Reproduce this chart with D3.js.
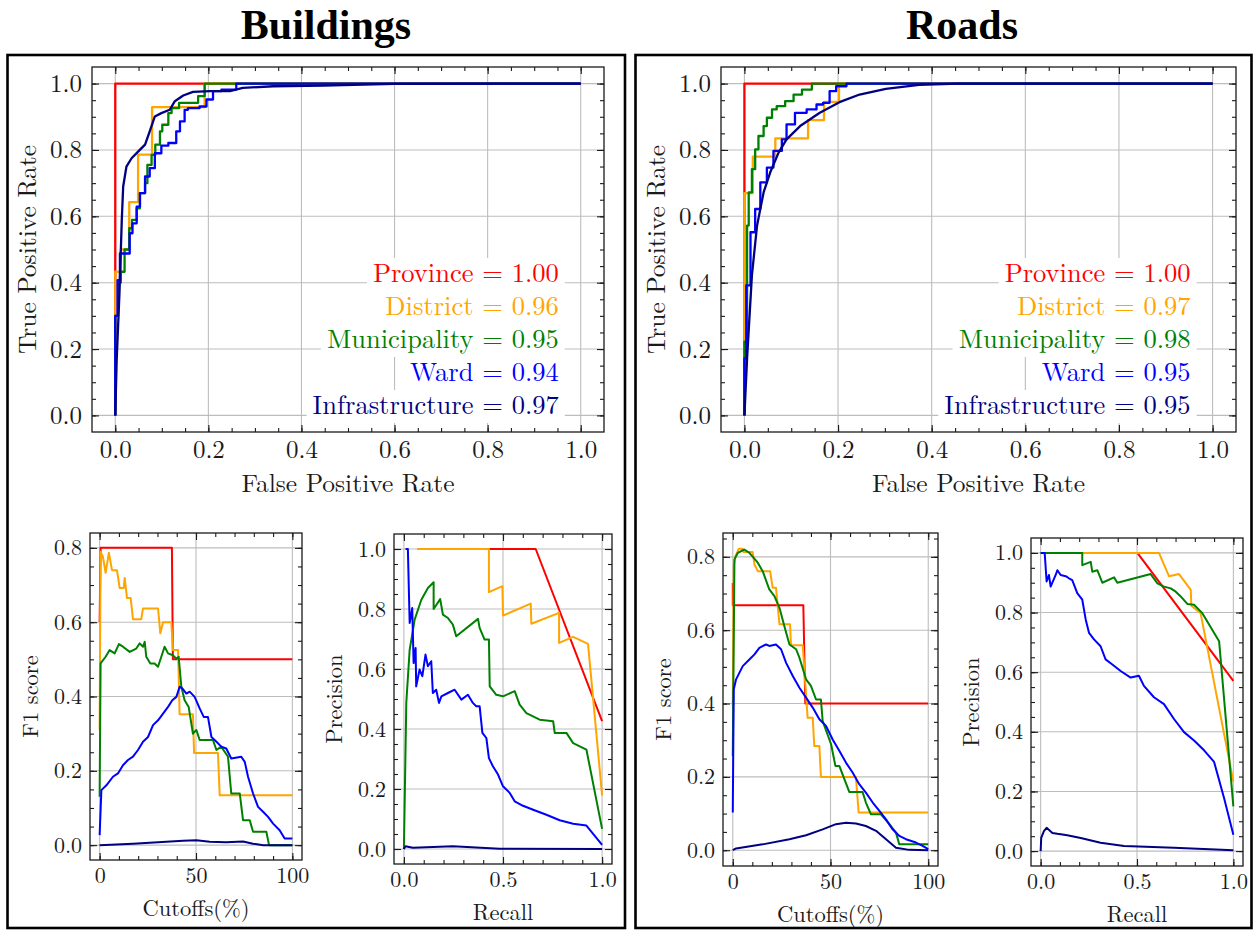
<!DOCTYPE html>
<html>
<head>
<meta charset="utf-8">
<script src="https://cdn.jsdelivr.net/npm/d3@7"></script>
<style>
  body { margin: 0; background: #fff; }
</style>
</head>
<body>
<svg id="chart" width="1254" height="930"></svg>
<script>
// categories / colours / AUC values
const categories = ["Province", "District", "Municipality", "Ward", "Infrastructure"];
const colors = ["#ff0000", "#ffa500", "#008000", "#0000ff", "#000080"];
const aucBuildings = ["1.00", "0.96", "0.95", "0.94", "0.97"];
const aucRoads = ["1.00", "0.97", "0.98", "0.95", "0.95"];

// tick values
const rocTicks = [0, 0.2, 0.4, 0.6, 0.8, 1.0];
const f1XTicks = [0, 50, 100];
const f1YTicks = [0, 0.2, 0.4, 0.6, 0.8];
const prXTicks = [0, 0.5, 1.0];
const prYTicks = [0, 0.2, 0.4, 0.6, 0.8, 1.0];

// ---- Buildings ROC [fpr, tpr]
const bRocProvince = [[0,0],[0,0.433],[0,1],[1,1]];
const bRocDistrict = [[0,0],[0,0.433],[0.012,0.433],[0.012,0.5],[0.03,0.5],[0.03,0.643],[0.049,0.643],[0.049,0.786],[0.079,0.786],[0.079,0.929],[0.192,0.929],[0.192,1],[1,1]];
const bRocMunicipality = [[0,0],[0.006,0.3],[0.012,0.40],[0.02,0.433],[0.03,0.5],[0.036,0.564],[0.046,0.589],[0.053,0.624],[0.064,0.67],[0.069,0.70],[0.078,0.755],[0.086,0.785],[0.096,0.816],[0.101,0.856],[0.114,0.876],[0.121,0.911],[0.137,0.926],[0.178,0.942],[0.192,0.962],[0.199,1],[1,1]];
const bRocWard = [[0,0],[0.005,0.3],[0.01,0.408],[0.021,0.488],[0.031,0.488],[0.037,0.549],[0.046,0.579],[0.053,0.629],[0.064,0.67],[0.074,0.72],[0.085,0.745],[0.099,0.79],[0.114,0.813],[0.131,0.821],[0.139,0.856],[0.149,0.886],[0.156,0.921],[0.181,0.926],[0.196,0.931],[0.21,0.952],[0.228,0.977],[0.26,0.982],[0.282,1],[1,1]];
const bRocInfra = [[0,0],[0.003,0.166],[0.009,0.368],[0.014,0.589],[0.017,0.69],[0.024,0.75],[0.035,0.775],[0.049,0.795],[0.064,0.816],[0.074,0.856],[0.085,0.901],[0.099,0.911],[0.117,0.921],[0.128,0.947],[0.146,0.964],[0.167,0.975],[0.203,0.977],[0.246,0.977],[0.274,0.987],[0.339,0.992],[0.446,0.994],[0.6,0.999],[1,1]];

// ---- Roads ROC
const rRocProvince = [[0,0],[0,0.67],[0,1],[1,1]];
const rRocDistrict = [[0,0],[0,0.67],[0.018,0.67],[0.018,0.78],[0.066,0.78],[0.066,0.835],[0.136,0.835],[0.136,0.89],[0.17,0.89],[0.17,0.945],[0.202,0.945],[0.202,1],[1,1]];
const rRocMunicipality = [[0,0],[0.0057,0.222],[0.0092,0.572],[0.016,0.672],[0.023,0.742],[0.03,0.802],[0.041,0.842],[0.048,0.872],[0.059,0.897],[0.069,0.922],[0.087,0.932],[0.105,0.947],[0.123,0.967],[0.144,0.982],[0.161,1],[1,1]];
const rRocWard = [[0,0],[0.004,0.172],[0.013,0.392],[0.023,0.552],[0.034,0.622],[0.048,0.702],[0.062,0.747],[0.08,0.797],[0.09,0.832],[0.108,0.877],[0.133,0.912],[0.154,0.922],[0.168,0.937],[0.182,0.942],[0.196,0.977],[0.218,0.992],[0.246,1],[1,1]];
const rRocInfra = [[0,0],[0.0057,0.172],[0.016,0.422],[0.027,0.572],[0.041,0.672],[0.055,0.732],[0.073,0.792],[0.09,0.832],[0.119,0.872],[0.161,0.912],[0.203,0.944],[0.246,0.967],[0.302,0.984],[0.373,0.996],[0.458,1],[1,1]];

// ---- Buildings F1 vs cutoff [%, f1]
const bF1Province = [[0,0.6],[0.5,0.8],[37.5,0.8],[38,0.5],[100,0.5]];
const bF1District = [[0,0.31],[0.5,0.79],[1.7,0.776],[3.1,0.733],[4.8,0.787],[6.4,0.74],[9,0.74],[10.4,0.692],[12.5,0.692],[13,0.719],[14.2,0.665],[16.1,0.665],[17.3,0.608],[21.6,0.608],[22.5,0.637],[30.3,0.637],[31.5,0.57],[32.9,0.6],[37.2,0.6],[38,0.525],[40.7,0.525],[41.5,0.352],[48.4,0.352],[49,0.248],[61.4,0.248],[62.3,0.134],[100,0.134]];
const bF1Municipality = [[0,0.13],[0.5,0.489],[3.1,0.507],[5.2,0.525],[7.8,0.516],[10,0.541],[12.1,0.534],[15.6,0.52],[19,0.529],[20.8,0.543],[22.5,0.534],[23.4,0.547],[24.2,0.507],[26.3,0.489],[28.5,0.489],[30.3,0.48],[32,0.507],[33.7,0.534],[35.5,0.516],[38,0.511],[39.8,0.502],[41,0.507],[42.4,0.426],[44.1,0.39],[46.2,0.372],[48.4,0.3],[50.2,0.31],[51.9,0.283],[58.8,0.283],[60.6,0.256],[63.1,0.265],[66.6,0.238],[68.3,0.139],[72.7,0.139],[74.4,0.067],[77.9,0.067],[79.6,0.036],[86.5,0.036],[87.9,0],[100,0]];
const bF1Ward = [[0,0.027],[0.9,0.148],[3.5,0.161],[6.9,0.184],[9.5,0.193],[12.1,0.215],[14.7,0.229],[17.3,0.238],[19.9,0.256],[22.5,0.278],[25.1,0.291],[27.7,0.323],[30.3,0.336],[32.9,0.354],[35.5,0.372],[37.7,0.39],[39.8,0.399],[41.5,0.426],[42.9,0.422],[45,0.408],[46.7,0.413],[49.3,0.399],[51.9,0.368],[54,0.345],[56.2,0.345],[58,0.291],[60.6,0.278],[63.1,0.265],[65.7,0.26],[68.3,0.233],[73.5,0.238],[75.3,0.224],[77,0.184],[79.6,0.139],[82.2,0.103],[84.8,0.09],[87.4,0.076],[90,0.058],[93.4,0.04],[96,0.018],[100,0.018]];
const bF1Infra = [[0,0],[17.3,0.004],[34.6,0.009],[43.3,0.012],[50.2,0.013],[57.1,0.009],[65.7,0.008],[74.4,0.01],[79.6,0.004],[84.8,0],[100,0]];

// ---- Buildings precision/recall [recall, precision]
const bPrProvince = [[0.333,1],[0.665,1],[1,0.426]];
const bPrDistrict = [[0.066,1],[0.429,1],[0.429,0.856],[0.497,0.876],[0.5,0.778],[0.64,0.818],[0.643,0.751],[0.783,0.787],[0.783,0.687],[0.854,0.707],[0.929,0.684],[1,0.179]];
const bPrMunicipality = [[0,0],[0.012,0.487],[0.029,0.664],[0.054,0.764],[0.088,0.831],[0.121,0.87],[0.15,0.889],[0.15,0.8],[0.183,0.833],[0.197,0.781],[0.222,0.77],[0.247,0.748],[0.264,0.709],[0.374,0.767],[0.382,0.737],[0.407,0.698],[0.429,0.698],[0.433,0.542],[0.466,0.514],[0.5,0.509],[0.559,0.526],[0.584,0.481],[0.618,0.453],[0.685,0.431],[0.753,0.426],[0.761,0.387],[0.82,0.387],[0.854,0.353],[0.921,0.331],[1,0.067]];
const bPrWard = [[0.008,1],[0.02,1],[0.029,0.753],[0.042,0.803],[0.049,0.62],[0.059,0.67],[0.062,0.542],[0.079,0.598],[0.093,0.576],[0.109,0.648],[0.121,0.609],[0.138,0.626],[0.146,0.52],[0.163,0.531],[0.177,0.487],[0.189,0.509],[0.222,0.52],[0.256,0.531],[0.29,0.498],[0.323,0.514],[0.348,0.487],[0.365,0.476],[0.382,0.476],[0.396,0.387],[0.416,0.37],[0.429,0.303],[0.449,0.276],[0.475,0.248],[0.5,0.209],[0.534,0.187],[0.559,0.159],[0.601,0.144],[0.652,0.131],[0.719,0.114],[0.786,0.096],[0.854,0.084],[0.921,0.078],[1,0.014]];
const bPrInfra = [[0,0],[0.008,0.009],[0.045,0.004],[0.247,0.009],[0.483,0.001],[1,0]];

// ---- Roads F1 vs cutoff
const rF1Province = [[0,0.729],[0,0.668],[36.1,0.668],[37.1,0.4],[100,0.4]];
const rF1District = [[0,0.393],[0.5,0.775],[1.4,0.802],[3.1,0.822],[4.8,0.822],[5.5,0.813],[10.2,0.813],[11.1,0.779],[12.8,0.761],[19.1,0.761],[20.4,0.716],[22.1,0.716],[23.9,0.616],[29.3,0.616],[29.8,0.559],[35.8,0.559],[38.3,0.361],[40.9,0.361],[41.7,0.284],[44.3,0.284],[45.1,0.2],[63,0.2],[64.4,0.103],[100,0.103]];
const rF1Municipality = [[0,0.257],[0.85,0.793],[2.6,0.811],[5.9,0.82],[8.5,0.811],[12.8,0.784],[15.3,0.761],[18.7,0.711],[21.3,0.693],[23.9,0.661],[26.4,0.611],[29,0.561],[32.4,0.548],[34.1,0.525],[37.5,0.466],[40,0.448],[42.6,0.411],[45.1,0.411],[46,0.352],[50.3,0.289],[52.5,0.23],[54.5,0.23],[59.6,0.159],[66.4,0.159],[68.1,0.13],[70.7,0.098],[75.8,0.098],[80.1,0.071],[83.5,0.048],[85.2,0.016],[100,0.016]];
const rF1Ward = [[0,0.103],[0.5,0.439],[1.7,0.466],[5.1,0.502],[8.5,0.52],[11.1,0.534],[13.6,0.552],[17,0.561],[18.7,0.557],[22.1,0.561],[24.7,0.548],[27.3,0.511],[30.7,0.475],[34.1,0.443],[37.5,0.416],[40.9,0.389],[44.3,0.357],[47.7,0.339],[51.1,0.302],[54.5,0.271],[57.9,0.239],[61.3,0.212],[64.7,0.18],[68.1,0.157],[71.6,0.13],[75,0.107],[78.4,0.084],[81.8,0.057],[85.2,0.039],[88.6,0.03],[93.7,0.021],[97.1,0.012],[100,0.003]];
const rF1Infra = [[0,0],[1.7,0.005],[15.3,0.016],[29,0.03],[37.5,0.041],[46,0.057],[52.8,0.071],[57.9,0.075],[63,0.073],[68.1,0.066],[73.3,0.053],[78.4,0.03],[83.5,0.007],[90.3,0.001],[100,0]];

// ---- Roads precision/recall
const rPrProvince = [[0.502,1],[1,0.571]];
const rPrDistrict = [[0.111,1],[0.614,1],[0.666,0.922],[0.718,0.929],[0.779,0.876],[0.782,0.823],[0.83,0.798],[1,0.233]];
const rPrMunicipality = [[0,1],[0.216,1],[0.216,0.959],[0.26,0.97],[0.268,0.937],[0.294,0.942],[0.32,0.9],[0.381,0.918],[0.398,0.9],[0.571,0.929],[0.606,0.898],[0.64,0.887],[0.675,0.881],[0.701,0.87],[0.727,0.854],[0.761,0.829],[0.796,0.826],[0.839,0.798],[0.926,0.704],[1,0.15]];
const rPrWard = [[0,1],[0.021,1],[0.031,0.904],[0.043,0.926],[0.052,0.887],[0.078,0.926],[0.087,0.942],[0.104,0.926],[0.13,0.922],[0.147,0.915],[0.164,0.909],[0.19,0.865],[0.216,0.843],[0.234,0.776],[0.251,0.732],[0.277,0.71],[0.311,0.687],[0.337,0.643],[0.372,0.626],[0.415,0.604],[0.467,0.582],[0.51,0.588],[0.536,0.554],[0.588,0.516],[0.64,0.493],[0.692,0.443],[0.744,0.399],[0.796,0.371],[0.848,0.338],[0.9,0.299],[0.952,0.177],[1,0.055]];
const rPrInfra = [[0,0],[0.003,0.044],[0.017,0.067],[0.031,0.078],[0.061,0.061],[0.087,0.058],[0.138,0.053],[0.208,0.044],[0.311,0.028],[0.433,0.017],[0.692,0.011],[1,0.003]];

const svg = d3.select("#chart");
const INK = "#1a1a1a";
const CM = "'Latin Modern Roman', 'Liberation Serif', serif";

// minor ticks strictly inside the axis domain
function minors(step, dom) {
  const out = [];
  for (let i = Math.ceil(dom[0] / step); i <= Math.floor(dom[1] / step); i++) {
    const v = +(i * step).toFixed(4);
    if (v > dom[0] + 1e-6 && v < dom[1] - 1e-6) out.push(v);
  }
  return out;
}

function panel(o) {
  const x = d3.scaleLinear().domain(o.xDomain).range([o.left, o.right]);
  const y = d3.scaleLinear().domain(o.yDomain).range([o.bottom, o.top]);
  const g = svg.append("g");

  // grid
  const grid = g.append("g").attr("stroke", "#bdbdbd").attr("stroke-width", 1.1);
  grid.selectAll("line.v").data(o.xTicks).join("line").attr("class", "v")
    .attr("x1", d => x(d)).attr("x2", d => x(d)).attr("y1", o.top).attr("y2", o.bottom);
  grid.selectAll("line.h").data(o.yTicks).join("line").attr("class", "h")
    .attr("x1", o.left).attr("x2", o.right).attr("y1", d => y(d)).attr("y2", d => y(d));

  // legend: coloured text on white boxes, over the grid
  if (o.legend) {
    const lg = g.append("g");
    o.legend.forEach((auc, i) => {
      const base = o.bottom - 18 - (4 - i) * 33;
      const t = lg.append("text")
        .attr("x", x(0.953)).attr("y", base)
        .attr("text-anchor", "end").attr("font-size", 26.5)
        .style("font-family", CM)
        .attr("fill", colors[i])
        .text(`${categories[i]} = ${auc}`);
      const bb = t.node().getBBox();
      lg.insert("rect", () => t.node())
        .attr("x", bb.x - 6).attr("y", base - 24)
        .attr("width", bb.width + 12).attr("height", 33)
        .attr("fill", "#fff");
    });
  }

  // series
  const line = d3.line().x(d => x(d[0])).y(d => y(d[1]));
  o.series.forEach((s, i) => {
    g.append("path").datum(s)
      .attr("fill", "none").attr("stroke", colors[i])
      .attr("stroke-width", o.lw).attr("stroke-linejoin", "round")
      .attr("d", line.curve(o.curves ? o.curves[i] : d3.curveLinear));
  });

  // ticks: inward, all four sides, major + minor
  const xMin = minors(o.xMinor, o.xDomain), yMin = minors(o.yMinor, o.yDomain);
  const style = sel => {
    sel.select(".domain").remove();
    sel.selectAll("line").attr("stroke", INK).attr("stroke-width", 1.1);
    sel.attr("font-size", o.fs).selectAll("text").attr("fill", INK).style("font-family", CM);
  };
  g.append("g").attr("transform", `translate(0,${o.bottom})`)
    .call(d3.axisBottom(x).tickValues(o.xTicks).tickSize(-7).tickPadding(o.padX).tickFormat(o.xFmt)).call(style);
  g.append("g").attr("transform", `translate(0,${o.bottom})`)
    .call(d3.axisBottom(x).tickValues(xMin).tickSize(-4).tickFormat("")).call(style);
  g.append("g").attr("transform", `translate(0,${o.top})`)
    .call(d3.axisTop(x).tickValues(o.xTicks).tickSize(-7).tickFormat("")).call(style);
  g.append("g").attr("transform", `translate(0,${o.top})`)
    .call(d3.axisTop(x).tickValues(xMin).tickSize(-4).tickFormat("")).call(style);
  g.append("g").attr("transform", `translate(${o.left},0)`)
    .call(d3.axisLeft(y).tickValues(o.yTicks).tickSize(-7).tickPadding(o.padY).tickFormat(d3.format(".1f"))).call(style);
  g.append("g").attr("transform", `translate(${o.left},0)`)
    .call(d3.axisLeft(y).tickValues(yMin).tickSize(-4).tickFormat("")).call(style);
  g.append("g").attr("transform", `translate(${o.right},0)`)
    .call(d3.axisRight(y).tickValues(o.yTicks).tickSize(-7).tickFormat("")).call(style);
  g.append("g").attr("transform", `translate(${o.right},0)`)
    .call(d3.axisRight(y).tickValues(yMin).tickSize(-4).tickFormat("")).call(style);

  g.append("rect")
    .attr("x", o.left).attr("y", o.top)
    .attr("width", o.right - o.left).attr("height", o.bottom - o.top)
    .attr("fill", "none").attr("stroke", INK).attr("stroke-width", 1.3);

  // axis labels
  g.append("text")
    .attr("x", (o.left + o.right) / 2).attr("y", o.bottom + o.xLabDy)
    .attr("text-anchor", "middle").attr("font-size", o.lfs).attr("fill", INK)
    .style("font-family", CM)
    .text(o.xLabel);
  g.append("text")
    .attr("transform", `translate(${o.left - o.yLabDx},${(o.top + o.bottom) / 2}) rotate(-90)`)
    .attr("dy", "0.35em")
    .attr("text-anchor", "middle").attr("font-size", o.lfs).attr("fill", INK)
    .style("font-family", CM)
    .text(o.yLabel);
}

const fmt1 = d3.format(".1f");
const rocBase = {
  top: 67, bottom: 432, xDomain: [-0.05, 1.05], yDomain: [-0.05, 1.05],
  xTicks: rocTicks, yTicks: rocTicks, xMinor: 0.05, yMinor: 0.05, xFmt: fmt1,
  fs: 25, lfs: 25.5, padX: 8, padY: 10, xLabDy: 60, yLabDx: 65, lw: 2.3,
  xLabel: "False Positive Rate", yLabel: "True Positive Rate",
  curves: [d3.curveLinear, d3.curveLinear, d3.curveStepBefore, d3.curveStepBefore, d3.curveLinear]
};
const f1Base = {
  xTicks: f1XTicks, yTicks: f1YTicks, xMinor: 10, yMinor: 0.05, xFmt: d3.format("d"),
  fs: 22, lfs: 22.5, padX: 7, padY: 8, xLabDy: 56, yLabDx: 60, lw: 2,
  xLabel: "Cutoffs(%)", yLabel: "F1 score", xDomain: [-5, 105]
};
const prBase = {
  xTicks: prXTicks, yTicks: prYTicks, xMinor: 0.1, yMinor: 0.05, xFmt: fmt1,
  fs: 22, lfs: 22.5, padX: 7, padY: 8, xLabDy: 56, yLabDx: 60, lw: 2,
  xLabel: "Recall", yLabel: "Precision", xDomain: [-0.05, 1.05], yDomain: [-0.05, 1.05]
};

// ROC panels
panel({ ...rocBase, left: 92, right: 604, legend: aucBuildings,
  series: [bRocProvince, bRocDistrict, bRocMunicipality, bRocWard, bRocInfra] });
panel({ ...rocBase, left: 721, right: 1236, legend: aucRoads,
  series: [rRocProvince, rRocDistrict, rRocMunicipality, rRocWard, rRocInfra] });

// F1 panels
panel({ ...f1Base, left: 90, right: 302, top: 533, bottom: 860, yDomain: [-0.04, 0.84],
  series: [bF1Province, bF1District, bF1Municipality, bF1Ward, bF1Infra] });
panel({ ...f1Base, left: 723, right: 938, top: 533, bottom: 866, yDomain: [-0.043, 0.865],
  series: [rF1Province, rF1District, rF1Municipality, rF1Ward, rF1Infra] });

// PR panels
panel({ ...prBase, left: 394, right: 612, top: 534, bottom: 864,
  series: [bPrProvince, bPrDistrict, bPrMunicipality, bPrWard, bPrInfra] });
panel({ ...prBase, left: 1031, right: 1243, top: 538, bottom: 866,
  series: [rPrProvince, rPrDistrict, rPrMunicipality, rPrWard, rPrInfra] });

// panel boxes and titles
svg.append("rect").attr("x", 7.5).attr("y", 55).attr("width", 617.5).attr("height", 873)
  .attr("fill", "none").attr("stroke", "#000").attr("stroke-width", 2.6);
svg.append("rect").attr("x", 635.5).attr("y", 55).attr("width", 616).attr("height", 873)
  .attr("fill", "none").attr("stroke", "#000").attr("stroke-width", 2.6);

svg.append("text").attr("x", 326).attr("y", 39).attr("text-anchor", "middle")
  .attr("font-size", 42).attr("font-weight", "bold").attr("fill", "#000")
  .style("font-family", "'Liberation Serif', serif").text("Buildings");
svg.append("text").attr("x", 962).attr("y", 39).attr("text-anchor", "middle")
  .attr("font-size", 42).attr("font-weight", "bold").attr("fill", "#000")
  .style("font-family", "'Liberation Serif', serif").text("Roads");
</script>
</body>
</html>
